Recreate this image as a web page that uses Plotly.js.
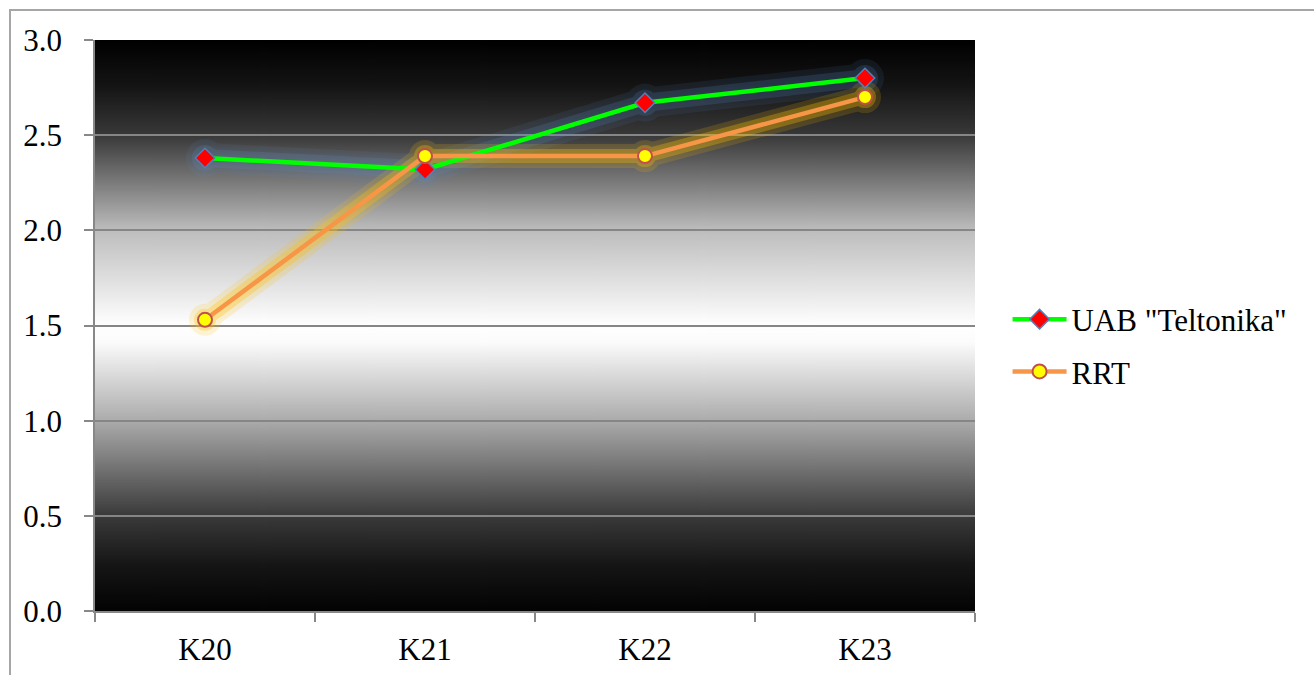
<!DOCTYPE html>
<html>
<head>
<meta charset="utf-8">
<script src="https://cdn.plot.ly/plotly-3.0.1.min.js"></script>
<style>
  html, body { margin: 0; padding: 0; background: #fff; overflow: hidden; }
  #frame { position: absolute; left: 9px; top: 9px; width: 1400px; height: 800px;
           border-left: 2px solid #a6a6a6; border-top: 2px solid #a6a6a6; pointer-events: none; z-index: 5; }
  #chart { position: absolute; left: 0; top: 0; width: 1314px; height: 675px; }
</style>
</head>
<body>
<div id="chart"></div>
<div id="frame"></div>
<script>
const categories = ["K20", "K21", "K22", "K23"];
const uabValues = [2.38, 2.32, 2.67, 2.80];
const rrtValues = [1.53, 2.39, 2.39, 2.70];
const seriesNames = ['UAB "Teltonika"', "RRT"];
const yTickVals = [0, 0.5, 1, 1.5, 2, 2.5, 3];
const yTickText = ["0.0", "0.5", "1.0", "1.5", "2.0", "2.5", "3.0"];

// gradient background image for the plot area
const bgCanvas = document.createElement("canvas");
bgCanvas.width = 8; bgCanvas.height = 571;
const bgCtx = bgCanvas.getContext("2d");
const bgGrad = bgCtx.createLinearGradient(0, 0, 0, 571);
bgGrad.addColorStop(0.00, "#000000");
bgGrad.addColorStop(0.08, "#141414");
bgGrad.addColorStop(0.166, "#383838");
bgGrad.addColorStop(0.333, "#bdbdbd");
bgGrad.addColorStop(0.50, "#ffffff");
bgGrad.addColorStop(0.53, "#fbfbfb");
bgGrad.addColorStop(0.667, "#ababab");
bgGrad.addColorStop(0.833, "#3a3a3a");
bgGrad.addColorStop(0.92, "#151515");
bgGrad.addColorStop(1.00, "#030303");
bgCtx.fillStyle = bgGrad;
bgCtx.fillRect(0, 0, 8, 571);
const bgURL = bgCanvas.toDataURL("image/png");

const FAM = "Liberation Serif";

function glow(y, color, w, msize, op) {
  return {
    x: categories, y: y, type: "scatter", mode: "lines+markers",
    line: { color: color, width: w, shape: "linear" },
    marker: { size: msize, color: color },
    opacity: op, hoverinfo: "skip", showlegend: false
  };
}

const traces = [
  glow(uabValues, "#5b8fd0", 30, 38, 0.10),
  glow(uabValues, "#5b8fd0", 18, 26, 0.18),
  glow(rrtValues, "#ffc000", 24, 32, 0.16),
  glow(rrtValues, "#ffc000", 14, 22, 0.30),
  {
    x: categories, y: uabValues, type: "scatter", mode: "lines+markers",
    name: seriesNames[0], legendgroup: "a",
    line: { color: "#00ff00", width: 4.5 },
    marker: { symbol: "diamond", size: 15, color: "#ff0000", line: { color: "#4f81bd", width: 1.5 } }
  },
  {
    x: categories, y: rrtValues, type: "scatter", mode: "lines+markers",
    name: seriesNames[1], legendgroup: "b",
    line: { color: "#f79646", width: 4.5 },
    marker: { symbol: "circle", size: 14, color: "#ffff00", line: { color: "#c0504d", width: 2 } }
  }
];

const layout = {
  width: 1314, height: 675,
  margin: { l: 95, r: 339, t: 40, b: 64, pad: 0 },
  paper_bgcolor: "rgba(0,0,0,0)",
  plot_bgcolor: "rgba(0,0,0,0)",
  font: { family: FAM, size: 31, color: "#000000" },
  images: [{
    source: bgURL, xref: "paper", yref: "paper", x: 0, y: 1,
    sizex: 1, sizey: 1, xanchor: "left", yanchor: "top",
    sizing: "stretch", layer: "below"
  }],
  xaxis: {
    type: "category", range: [-0.5, 3.5],
    tickson: "boundaries", ticks: "outside", ticklen: 9, tickwidth: 1.5, tickcolor: "#888888",
    showline: true, linecolor: "#888888", linewidth: 1.5,
    showgrid: false, zeroline: false,
    tickfont: { family: FAM, size: 31, color: "#000000" },
    ticklabelstandoff: 10,
    fixedrange: true
  },
  yaxis: {
    range: [0, 3], tickvals: yTickVals, ticktext: yTickText,
    ticks: "outside", ticklen: 9, tickwidth: 1.5, tickcolor: "#888888",
    showline: true, linecolor: "#888888", linewidth: 1.5,
    showgrid: true, gridcolor: "#868686", gridwidth: 1.5,
    zeroline: false,
    tickfont: { family: FAM, size: 31, color: "#000000" },
    ticklabelstandoff: 16,
    fixedrange: true
  },
  legend: {
    x: 1.037, y: 0.465, xanchor: "left", yanchor: "middle",
    font: { family: FAM, size: 31, color: "#000000" },
    bgcolor: "rgba(0,0,0,0)", tracegroupgap: 9, itemwidth: 54
  },
  showlegend: true
};

Plotly.newPlot("chart", traces, layout, { displayModeBar: false }).then(function () {
  document.querySelectorAll("#chart svg text").forEach(function (t) {
    t.style.fontFamily = '"Liberation Serif", "Times New Roman", serif';
  });
});
</script>
</body>
</html>
